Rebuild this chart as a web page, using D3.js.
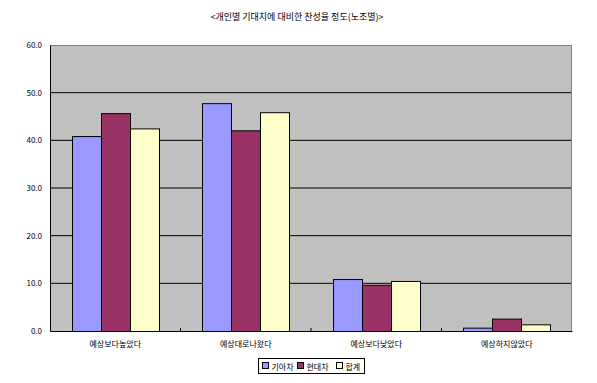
<!DOCTYPE html>
<html>
<head>
<meta charset="utf-8">
<script src="https://cdn.jsdelivr.net/npm/d3@7"></script>
<style>
  body { margin: 0; background: #fff; }
  text { font-family: "Noto Sans CJK KR", "DejaVu Sans", sans-serif; }
</style>
</head>
<body>
<div class="chart"></div>
<script>
var svgWidth = 597;
var svgHeight = 383;

// data
var categories = ["예상보다높았다", "예상대로나왔다", "예상보다낮았다", "예상하지않았다"];
var seriesNames = ["기아차", "현대차", "합계"];
var kia = [40.9, 47.8, 10.9, 0.7];
var hyundai = [45.7, 42.1, 9.7, 2.6];
var total = [42.5, 45.9, 10.5, 1.4];
var yTicks = [0, 10, 20, 30, 40, 50, 60];
var colors = ["#9999ff", "#993366", "#ffffcc"];

var margin = { top: 45, right: 25, bottom: 52, left: 50 };
var width = svgWidth - margin.left - margin.right;
var height = svgHeight - margin.top - margin.bottom;

var svg = d3.select(".chart")
  .append("svg")
  .attr("width", svgWidth)
  .attr("height", svgHeight);

svg.append("text")
  .attr("x", 297)
  .attr("y", 20)
  .attr("text-anchor", "middle")
  .attr("font-size", "9px")
  .text("<개인별 기대치에 대비한 찬성율 정도(노조별)>");

var chartGroup = svg.append("g")
  .attr("transform", `translate(${margin.left}, ${margin.top})`);

var x0 = d3.scaleBand()
  .domain(categories)
  .range([0, width])
  .paddingInner(0)
  .paddingOuter(0);

var x1 = d3.scaleBand()
  .domain(seriesNames)
  .range([x0.bandwidth() / 6, x0.bandwidth() * 5 / 6]);

var y = d3.scaleLinear()
  .domain([0, 60])
  .range([height, 0]);

// plot area
chartGroup.append("rect")
  .attr("width", width)
  .attr("height", height)
  .attr("fill", "#c0c0c0");

// gridlines
chartGroup.selectAll("line.grid")
  .data(yTicks.slice(1, -1))
  .enter()
  .append("line")
  .attr("x1", 0)
  .attr("x2", width)
  .attr("y1", d => y(d))
  .attr("y2", d => y(d))
  .attr("stroke", "#000")
  .attr("stroke-width", 1);

// border top/right grey
chartGroup.append("path")
  .attr("d", `M0,0.5H${width - 0.5}V${height}`)
  .attr("fill", "none")
  .attr("stroke", "#808080");

// bars
var seriesData = [kia, hyundai, total];
seriesData.forEach(function(vals, si) {
  chartGroup.selectAll("rect.s" + si)
    .data(vals)
    .enter()
    .append("rect")
    .attr("class", "s" + si)
    .attr("x", (d, i) => Math.round(x0(categories[i]) + x1(seriesNames[si])) + 0.5)
    .attr("y", d => y(d) + 0.5)
    .attr("width", Math.round(x1.bandwidth()))
    .attr("height", d => height - y(d))
    .attr("fill", colors[si])
    .attr("stroke", "#000")
    .attr("stroke-width", 1);
});

// y axis
var leftAxis = d3.axisLeft(y)
  .tickValues(yTicks)
  .tickSize(0)
  .tickPadding(8)
  .tickFormat(d3.format(".1f"));

var yAxisG = chartGroup.append("g").call(leftAxis);
yAxisG.select(".domain").attr("stroke", "#000");
yAxisG.selectAll("text")
  .attr("font-size", "8px")
  .attr("font-family", "DejaVu Sans, sans-serif");

// x axis
var bottomAxis = d3.axisBottom(x0)
  .tickSize(0)
  .tickPadding(10);

var xAxisG = chartGroup.append("g")
  .attr("transform", `translate(0, ${height})`)
  .call(bottomAxis);
xAxisG.select(".domain").attr("stroke", "#000");
xAxisG.selectAll("text").attr("font-size", "8px");

// category boundary ticks
chartGroup.selectAll("line.cat")
  .data(categories.slice(1))
  .enter()
  .append("line")
  .attr("x1", d => x0(d))
  .attr("x2", d => x0(d))
  .attr("y1", height)
  .attr("y2", height - 3)
  .attr("stroke", "#000");

// legend
var legend = svg.append("g")
  .attr("transform", "translate(258.5, 358.5)");
legend.append("rect")
  .attr("width", 106)
  .attr("height", 15)
  .attr("fill", "#fff")
  .attr("stroke", "#000");

var legendX = [4, 39, 78];
seriesNames.forEach(function(name, i) {
  legend.append("rect")
    .attr("x", legendX[i])
    .attr("y", 4)
    .attr("width", 6)
    .attr("height", 6)
    .attr("fill", colors[i])
    .attr("stroke", "#000");
  legend.append("text")
    .attr("x", legendX[i] + 9)
    .attr("y", 11)
    .attr("font-size", "8px")
    .text(name);
});
</script>
</body>
</html>
